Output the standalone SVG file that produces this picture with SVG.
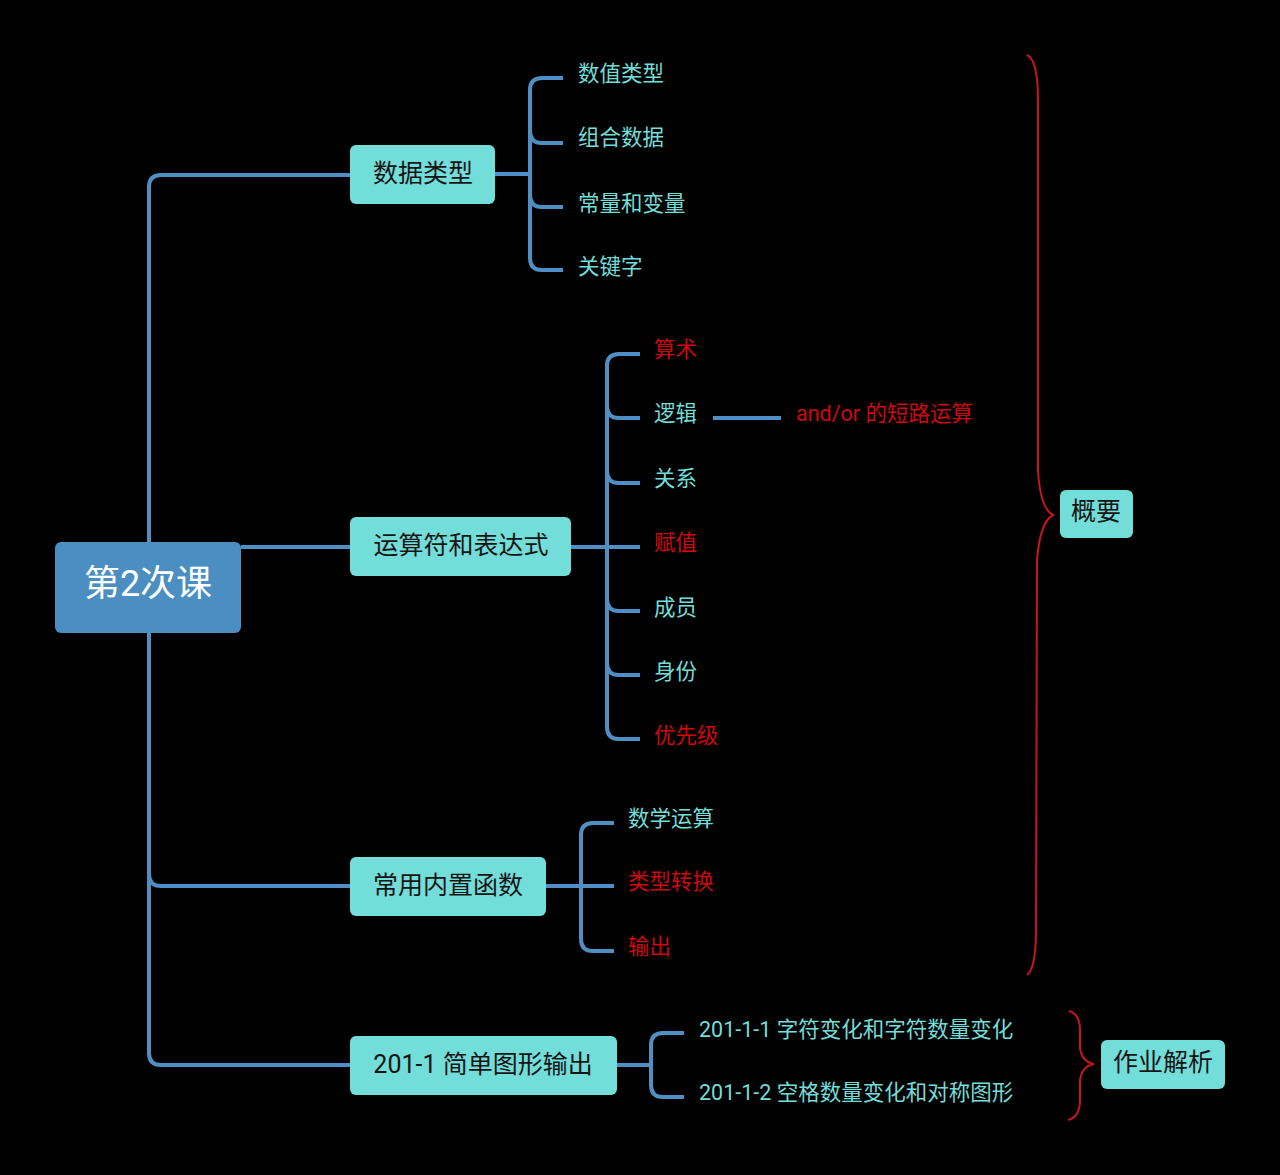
<svg xmlns="http://www.w3.org/2000/svg" width="1280" height="1175" viewBox="0 0 1280 1175">
<style>
text{font-family:Roboto,"Noto Sans CJK SC","Noto Sans",sans-serif;}
.ln{fill:none;stroke:#4F8FC4;stroke-width:4;stroke-linecap:butt;}
.br{fill:none;stroke:#C8161B;stroke-width:2;}
.node{fill:#72DDD9;}
.nt{font-size:25px;fill:#151515;text-anchor:middle;}
.sub{font-size:21.5px;fill:#72DDD9;}
.red{font-size:21.5px;fill:#D0070F;}
</style>
<rect width="1280" height="1175" fill="#000"/>
<g id="connectors">
<path class="ln" d="M350,175 H161 Q149,175 149,187 V1053 Q149,1065 161,1065 H350"/>
<path class="ln" d="M149,874 Q149,886 161,886 H350"/>
<path class="ln" d="M241,547 H350"/>
<path class="ln" d="M495,174 H530"/>
<path class="ln" d="M563,78 H542 Q530,78 530,90 V258 Q530,270 542,270 H563"/>
<path class="ln" d="M530,131 Q530,143 542,143 H563"/>
<path class="ln" d="M530,195 Q530,207 542,207 H563"/>
<path class="ln" d="M571,547 H640"/>
<path class="ln" d="M640,354 H619 Q607,354 607,366 V727 Q607,739 619,739 H640"/>
<path class="ln" d="M607,406 Q607,418 619,418 H640"/>
<path class="ln" d="M607,471 Q607,483 619,483 H640"/>
<path class="ln" d="M607,599 Q607,611 619,611 H640"/>
<path class="ln" d="M607,663 Q607,675 619,675 H640"/>
<path class="ln" d="M713,418 H781"/>
<path class="ln" d="M546,886 H614"/>
<path class="ln" d="M614,823 H593 Q581,823 581,835 V939 Q581,951 593,951 H614"/>
<path class="ln" d="M617,1065 H651"/>
<path class="ln" d="M684,1033 H663 Q651,1033 651,1045 V1085 Q651,1097 663,1097 H684"/>
<path class="br" d="M1027,55 Q1038,60 1038,100 L1038,470 Q1040,508 1053,515 Q1040,522 1037,560 L1036,930 Q1036,968 1027,975"/>
<path class="br" d="M1069,1011 Q1080,1014 1080,1030 L1080,1048 Q1082,1062 1094,1064 Q1082,1066 1080,1080 L1080,1100 Q1080,1117 1068,1120"/>
</g>
<g id="root">
<rect x="55" y="542" width="186" height="91" rx="6" fill="#4B8FC2"/>
<text x="148" y="596" font-size="36" fill="#fff" text-anchor="middle">第2次课</text>
</g>
<g id="n-datatype">
<rect class="node" x="350" y="145" width="145" height="59" rx="6"/>
<text class="nt" x="423" y="182">数据类型</text>
</g>
<g id="n-operators">
<rect class="node" x="350" y="517" width="221" height="59" rx="6"/>
<text class="nt" x="461" y="554">运算符和表达式</text>
</g>
<g id="n-builtin">
<rect class="node" x="350" y="857" width="196" height="59" rx="6"/>
<text class="nt" x="448" y="894">常用内置函数</text>
</g>
<g id="n-201">
<rect class="node" x="350" y="1036" width="267" height="59" rx="6"/>
<text class="nt" x="483" y="1073">201-1 简单图形输出</text>
</g>
<g id="n-summary">
<rect class="node" x="1060" y="490" width="73" height="48" rx="6"/>
<text class="nt" x="1096" y="520" font-size="24">概要</text>
</g>
<g id="n-homework">
<rect class="node" x="1101" y="1040" width="124" height="49" rx="6"/>
<text class="nt" x="1163" y="1071" font-size="24">作业解析</text>
</g>
<g id="leaves">
<text class="sub" x="578" y="81">数值类型</text>
<text class="sub" x="578" y="145">组合数据</text>
<text class="sub" x="578" y="211">常量和变量</text>
<text class="sub" x="578" y="274">关键字</text>
<text class="red" x="654" y="357">算术</text>
<text class="sub" x="654" y="421">逻辑</text>
<text class="red" x="796" y="421">and/or 的短路运算</text>
<text class="sub" x="654" y="486">关系</text>
<text class="red" x="654" y="550">赋值</text>
<text class="sub" x="654" y="615">成员</text>
<text class="sub" x="654" y="679">身份</text>
<text class="red" x="654" y="743">优先级</text>
<text class="sub" x="628" y="826">数学运算</text>
<text class="red" x="628" y="889">类型转换</text>
<text class="red" x="628" y="954">输出</text>
<text class="sub" x="699" y="1037">201-1-1 字符变化和字符数量变化</text>
<text class="sub" x="699" y="1100">201-1-2 空格数量变化和对称图形</text>
</g>
</svg>
